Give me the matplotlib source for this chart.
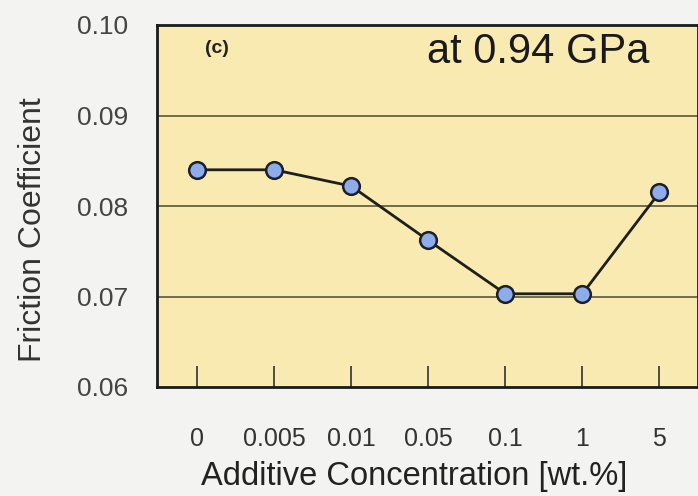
import numpy as np
import matplotlib.pyplot as plt

plt.rcParams['font.family'] = ['Liberation Sans', 'DejaVu Sans']

# data
conc_labels = ['0', '0.005', '0.01', '0.05', '0.1', '1', '5']
friction = [0.0840, 0.0840, 0.0822, 0.0762, 0.0703, 0.0703, 0.0815]
y_ticks = [0.06, 0.07, 0.08, 0.09, 0.10]

x = np.arange(len(conc_labels))

fig = plt.figure(figsize=(6.98, 4.96), dpi=100, facecolor='#f3f3f1')
ax = fig.add_axes([157 / 698, 1 - 387 / 496, 541 / 698, 362 / 496])
ax.set_facecolor('#f8eab0')

for yv in y_ticks[1:-1]:
    ax.axhline(yv, color='#4a4a30', linewidth=1.1, zorder=1)

ax.plot(x, friction, color='#1e1e1e', linewidth=2, marker='o', markersize=12,
        markerfacecolor='#8cacea', markeredgecolor='#1e1e2a', markeredgewidth=1.8,
        zorder=3)

ax.set_xlim(-0.52, 6.5)
ax.set_ylim(0.06, 0.10)
ax.set_xticks(x)
ax.set_xticklabels(conc_labels)
ax.set_yticks(y_ticks)
ax.set_yticklabels([f'{v:.2f}' for v in y_ticks])

ax.tick_params(axis='x', direction='in', length=15, width=1.2, color='#333333',
               pad=29, labelsize=18, labelcolor='#333333')
ax.tick_params(axis='y', length=0, pad=21, labelsize=19, labelcolor='#444444')
for s in ax.spines.values():
    s.set_linewidth(2)
    s.set_color('#1a1a1a')

ax.set_xlabel('Additive Concentration [wt.%]', fontsize=23.5, color='#222222')
ax.xaxis.set_label_coords(0.475, -0.205)
ax.set_ylabel('Friction Coefficient', fontsize=23, color='#333333')
ax.yaxis.set_label_coords(-0.201, 0.435)

ax.text(0.088, 0.935, '(c)', transform=ax.transAxes, fontsize=14, fontweight='bold',
        color='#222222', va='center')
ax.text(0.91, 0.925, 'at 0.94 GPa', transform=ax.transAxes, fontsize=30,
        color='#1a1a1a', ha='right', va='center')

fig.savefig('out.png', dpi=100, facecolor=fig.get_facecolor())
